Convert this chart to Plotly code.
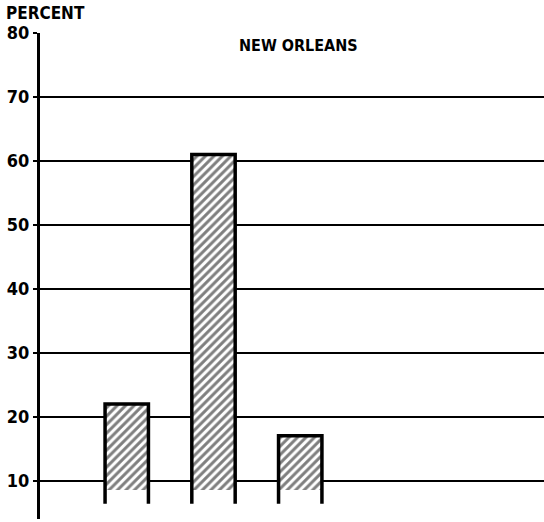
import plotly.graph_objects as go

# Share of respondents (percent) for the three groups
positions = [1, 2, 3]
values = [22, 61, 17]
bar_base = 8.6      # where the hatched fill stops (broken-scale bars)
side_base = 6.4     # sides continue a little below the fill
bar_width = 0.5
y_ticks = [10, 20, 30, 40, 50, 60, 70, 80]

FONT = "DejaVu Sans Condensed, DejaVu Sans, sans-serif"

fig = go.Figure()

# hatched bar bodies
fig.add_trace(go.Bar(
    x=positions,
    y=[v - bar_base for v in values],
    base=bar_base,
    width=bar_width,
    marker=dict(
        color="white",
        line=dict(width=0),
        pattern=dict(shape="/", fgcolor="black", bgcolor="white",
                     size=6, solidity=0.5),
    ),
    showlegend=False,
    hoverinfo="skip",
))

# open-bottom outlines: left side, top, right side
for p, v in zip(positions, values):
    left, right = p - bar_width / 2, p + bar_width / 2
    fig.add_trace(go.Scatter(
        x=[left, left, right, right],
        y=[side_base, v, v, side_base],
        mode="lines",
        line=dict(color="black", width=3.5),
        showlegend=False,
        hoverinfo="skip",
    ))

fig.update_layout(
    width=544, height=522,
    margin=dict(l=40, r=0, t=33, b=3),
    paper_bgcolor="white",
    plot_bgcolor="white",
    bargap=0,
    xaxis=dict(range=[0, 5.81], showgrid=False, zeroline=False,
               showticklabels=False, showline=False, ticks=""),
    yaxis=dict(
        range=[4, 80],
        tickvals=y_ticks,
        ticktext=[str(t) for t in y_ticks],
        showgrid=True, gridcolor="black", gridwidth=2,
        zeroline=False,
        showline=True, linecolor="black", linewidth=3,
        ticks="outside", ticklen=4, tickwidth=2, tickcolor="black",
        tickfont=dict(family=FONT, size=18, color="black", weight="bold"),
    ),
    annotations=[
        dict(text="PERCENT", xref="paper", yref="paper",
             x=-36 / 504, y=1 + 32 / 486, xanchor="left", yanchor="top",
             showarrow=False,
             font=dict(family=FONT, size=17, color="black", weight="bold")),
        dict(text="NEW ORLEANS", xref="paper", yref="y",
             x=0.512, y=78.0, xanchor="center", yanchor="middle",
             showarrow=False,
             font=dict(family=FONT, size=16, color="black", weight="bold")),
    ],
)

fig.write_html("out.html")
